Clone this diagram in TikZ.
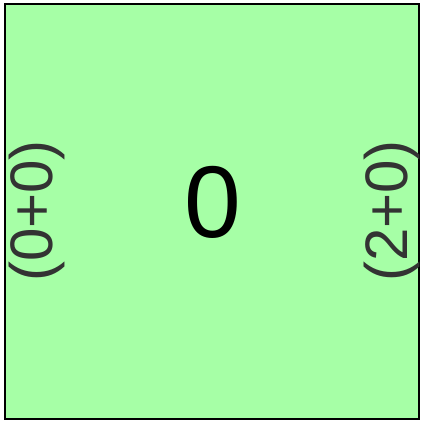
\documentclass[tikz,border=0pt]{standalone}
\usepackage{fontspec}
\setmainfont{Liberation Sans}
\definecolor{boxfill}{RGB}{166,255,166}
\definecolor{labelgray}{RGB}{51,51,51}
\begin{document}
\begin{tikzpicture}[x=1pt,y=1pt,
  sidelabel/.style={text=labelgray,font=\fontsize{60}{60}\selectfont,rotate=90,inner sep=0pt},
  centerlabel/.style={text=black,font=\fontsize{102}{102}\selectfont,inner sep=0pt}]
\useasboundingbox (0,0) rectangle (421,423);
\draw[fill=boxfill,draw=black,line width=2pt] (5,4) rectangle (419,419);
\node[centerlabel] (c) at (212.5,221) {0};
\node[sidelabel] (l) at (37,212) {(0+0)};
\node[sidelabel] (r) at (392,212) {(2+0)};
\end{tikzpicture}
\end{document}
